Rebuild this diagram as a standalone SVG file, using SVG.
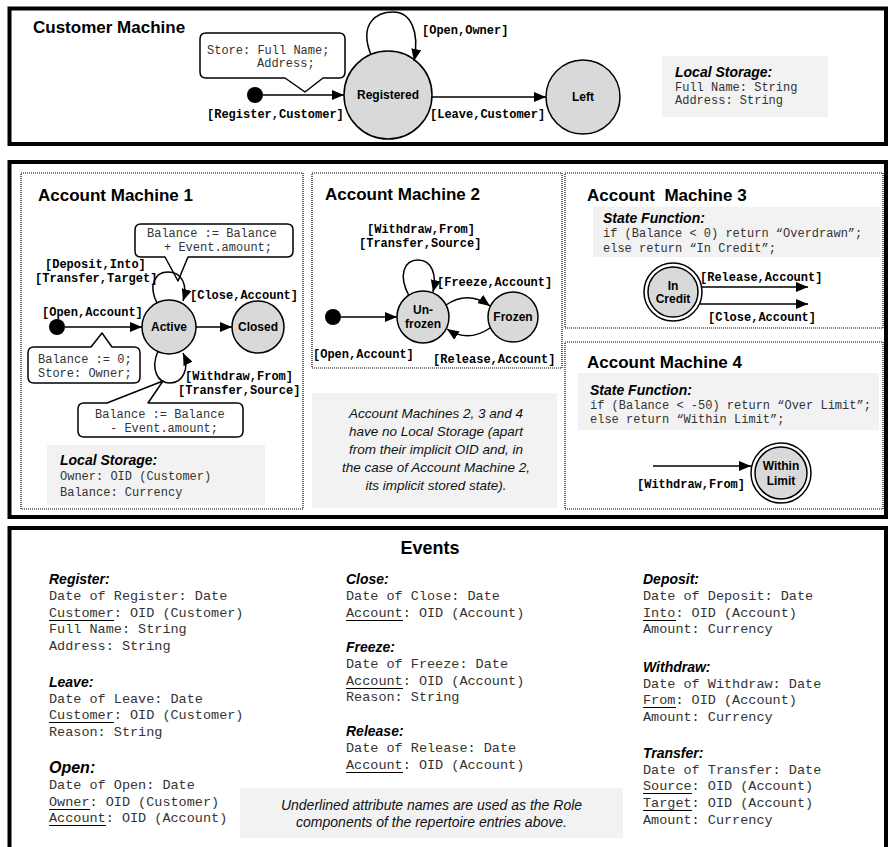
<svg xmlns="http://www.w3.org/2000/svg" width="888" height="847" viewBox="0 0 888 847">
<style>
.frame{fill:none;stroke:#000;stroke-width:4}
.dotb{fill:none;stroke:#000;stroke-width:1.2;stroke-dasharray:1 1}
.state{fill:#d9d9d9;stroke:#000;stroke-width:1.5}
.outer{fill:#fff;stroke:#000;stroke-width:1.5}
.call{fill:#fff;stroke:#000;stroke-width:1.5;stroke-linejoin:round}
.gray{fill:#f2f2f2}
.edge{fill:none;stroke:#000;stroke-width:1.5;marker-end:url(#ah)}
.title{font:bold 17px "Liberation Sans",Arial,sans-serif;fill:#000}
.sn{font:bold 12px "Liberation Sans",Arial,sans-serif;text-anchor:middle;fill:#000}
.lbl{font:bold 12px "Liberation Mono","Courier New",monospace;fill:#000}
.code{font:12px "Liberation Mono","Courier New",monospace;fill:#333}
.hd{font:bold italic 14px "Liberation Sans",Arial,sans-serif;fill:#000}
.ev{font:13.5px "Liberation Mono","Courier New",monospace;fill:#333}
.note{font:italic 13.5px "Liberation Sans",Arial,sans-serif;text-anchor:middle;fill:#111}
.ul{stroke:#000;stroke-width:1}
</style>
<defs>
<marker id="ah" viewBox="0 0 12 10" refX="12" refY="5" markerWidth="12" markerHeight="10" markerUnits="userSpaceOnUse" orient="auto">
<path d="M0,0 L12,5 L0,10 Z" fill="#000"/>
</marker>
</defs>

<!-- Frames -->
<rect class="frame" x="9.5" y="8.5" width="876.5" height="135.5"/>
<rect class="frame" x="9.5" y="162" width="876.5" height="355"/>
<rect class="frame" x="9.5" y="528" width="876.5" height="340"/>

<!-- Customer Machine -->
<g id="customer-machine">
<text class="title" x="33" y="33">Customer Machine</text>
<g id="cm-callout">
<path class="call" d="M206,33 H339 Q345,33 345,39 V72 Q345,78 339,78 H323 L305,92 L285,78 H206 Q200,78 200,72 V39 Q200,33 206,33 Z"/>
<text class="code" x="207" y="54">Store: Full Name;</text>
<text class="code" x="257" y="67">Address;</text>
</g>
<g id="cm-initial"><circle cx="255" cy="95" r="8" fill="#000"/></g>
<g id="cm-registered"><circle class="state" cx="388" cy="95" r="44"/><text class="sn" x="388" y="99">Registered</text></g>
<g id="cm-left"><circle class="state" cx="583" cy="97" r="37"/><text class="sn" x="583" y="101">Left</text></g>
<g id="cm-storage">
<rect class="gray" x="662" y="56" width="166" height="61"/>
<text class="hd" x="675" y="77">Local Storage:</text>
<text class="code" x="675" y="91">Full Name: String</text>
<text class="code" x="675" y="104">Address: String</text>
</g>
</g>

<!-- Account Machine 1 -->
<g id="account-machine-1">
<rect class="dotb" x="21" y="173" width="282" height="336"/>
<text class="title" x="38" y="201">Account Machine 1</text>
<g id="am1-callout-deposit">
<path class="call" d="M141,224 H287 Q293,224 293,230 V251 Q293,257 287,257 H188 L178,281 L165,257 H141 Q135,257 135,251 V230 Q135,224 141,224 Z"/>
<text class="code" x="147" y="237">Balance := Balance</text>
<text class="code" x="164" y="251">+ Event.amount;</text>
</g>
<g id="am1-initial"><circle cx="57" cy="327" r="8" fill="#000"/></g>
<g id="am1-active"><circle class="state" cx="169" cy="327" r="27"/><text class="sn" x="169" y="331">Active</text></g>
<g id="am1-closed"><circle class="state" cx="258" cy="327" r="26"/><text class="sn" x="258" y="331">Closed</text></g>
<g id="am1-callout-open">
<path class="call" d="M34,347 H91 L102,333 L112,347 H134 Q140,347 140,353 V377 Q140,383 134,383 H34 Q28,383 28,377 V353 Q28,347 34,347 Z"/>
<text class="code" x="38" y="363">Balance := 0;</text>
<text class="code" x="38" y="377">Store: Owner;</text>
</g>
<g id="am1-callout-withdraw">
<path class="call" d="M84,403 H107 L163,381 L148,403 H237 Q243,403 243,409 V431 Q243,437 237,437 H84 Q78,437 78,431 V409 Q78,403 84,403 Z"/>
<text class="code" x="95" y="418">Balance := Balance</text>
<text class="code" x="110" y="432">- Event.amount;</text>
</g>
<g id="am1-storage">
<rect class="gray" x="47" y="445" width="218" height="60"/>
<text class="hd" x="60" y="465">Local Storage:</text>
<text class="code" x="60" y="480">Owner: OID (Customer)</text>
<text class="code" x="60" y="496">Balance: Currency</text>
</g>
</g>

<!-- Account Machine 2 -->
<g id="account-machine-2">
<rect class="dotb" x="312" y="173" width="250" height="195"/>
<text class="title" x="325" y="200">Account Machine 2</text>
<g id="am2-initial"><circle cx="333" cy="317" r="8" fill="#000"/></g>
<g id="am2-unfrozen"><circle class="state" cx="423" cy="317" r="26"/><text class="sn" x="423" y="314">Un-</text><text class="sn" x="423" y="328">frozen</text></g>
<g id="am2-frozen"><circle class="state" cx="513" cy="317" r="25"/><text class="sn" x="513" y="321">Frozen</text></g>
</g>
<g id="am2-note">
<rect class="gray" x="312" y="393" width="245" height="115"/>
<text class="note" x="436" y="418">Account Machines 2, 3 and 4</text>
<text class="note" x="436" y="436">have no Local Storage (apart</text>
<text class="note" x="436" y="454">from their implicit  OID and, in</text>
<text class="note" x="436" y="472">the case of Account Machine 2,</text>
<text class="note" x="436" y="490">its implicit stored  state).</text>
</g>

<!-- Account Machine 3 -->
<g id="account-machine-3">
<rect class="dotb" x="565" y="173" width="318" height="155"/>
<text class="title" x="587" y="201">Account&#160; Machine 3</text>
<rect class="gray" x="593" y="207" width="287" height="50"/>
<text class="hd" x="603" y="223">State Function:</text>
<text class="code" x="603" y="237">if (Balance &lt; 0) return “Overdrawn”;</text>
<text class="code" x="603" y="252">else return “In Credit”;</text>
<g id="am3-incredit">
<circle class="outer" cx="673" cy="292" r="29"/>
<circle class="state" cx="673" cy="292" r="25"/>
<text class="sn" x="673" y="290">In</text>
<text class="sn" x="673" y="303">Credit</text>
</g>
</g>

<!-- Account Machine 4 -->
<g id="account-machine-4">
<rect class="dotb" x="565" y="342" width="318" height="167"/>
<text class="title" x="587" y="368">Account Machine 4</text>
<rect class="gray" x="578" y="373" width="301" height="57"/>
<text class="hd" x="590" y="395">State Function:</text>
<text class="code" x="590" y="409">if (Balance &lt; -50) return “Over Limit”;</text>
<text class="code" x="590" y="423">else return “Within Limit”;</text>
<g id="am4-withinlimit">
<circle class="outer" cx="781" cy="473" r="30"/>
<circle class="state" cx="781" cy="473" r="26"/>
<text class="sn" x="781" y="470">Within</text>
<text class="sn" x="781" y="485">Limit</text>
</g>
</g>

<!-- Connectors -->
<g id="connectors">
<path class="edge" d="M263,95 L344,95"/>
<text class="lbl" x="207" y="118">[Register,Customer]</text>
<path class="edge" d="M371,55 C358,22 378,12 393,12 C410,12 420,30 414,61"/>
<text class="lbl" x="422" y="34">[Open,Owner]</text>
<path class="edge" d="M432,97 L546,97"/>
<text class="lbl" x="430" y="118">[Leave,Customer]</text>

<path class="edge" d="M65,327 L142,327"/>
<text class="lbl" x="42" y="316">[Open,Account]</text>
<path class="edge" d="M157,303 C148,285 155,272 168,272 C182,272 188,285 183,301"/>
<text class="lbl" x="45" y="268">[Deposit,Into]</text>
<text class="lbl" x="35" y="282">[Transfer,Target]</text>
<path class="edge" d="M196,327 L232,327"/>
<text class="lbl" x="190" y="299">[Close,Account]</text>
<path class="edge" d="M158,351 C150,370 158,383 170,383 C183,383 190,368 183,353"/>
<text class="lbl" x="185" y="380">[Withdraw,From]</text>
<text class="lbl" x="178" y="394">[Transfer,Source]</text>

<path class="edge" d="M341,317 L397,317"/>
<text class="lbl" x="313" y="358">[Open,Account]</text>
<path class="edge" d="M409,296 C398,275 404,260 418,260 C432,260 437,275 433,292"/>
<text class="lbl" x="367" y="233">[Withdraw,From]</text>
<text class="lbl" x="359" y="247">[Transfer,Source]</text>
<path class="edge" d="M446,305 Q468,290 490,306"/>
<text class="lbl" x="437" y="286">[Freeze,Account]</text>
<path class="edge" d="M490,328 Q468,343 447,329"/>
<text class="lbl" x="433" y="363">[Release,Account]</text>

<path class="edge" d="M701,287 L808,287"/>
<text class="lbl" x="700" y="281">[Release,Account]</text>
<path class="edge" d="M699,304 L808,304"/>
<text class="lbl" x="708" y="321">[Close,Account]</text>

<path class="edge" d="M653,466 L751,466"/>
<text class="lbl" x="637" y="488">[Withdraw,From]</text>
</g>

<!-- Events -->
<g id="events">
<text class="title" x="430" y="554" text-anchor="middle" style="font-size:18px">Events</text>

<g id="ev-register">
<text class="hd" x="49" y="584">Register:</text>
<text class="ev" x="49" y="600">Date of Register: Date</text>
<text class="ev" x="49" y="617">Customer: OID (Customer)</text>
<line class="ul" x1="49" y1="620.5" x2="114" y2="620.5"/>
<text class="ev" x="49" y="633">Full Name: String</text>
<text class="ev" x="49" y="650">Address: String</text>
</g>
<g id="ev-leave">
<text class="hd" x="49" y="687">Leave:</text>
<text class="ev" x="49" y="703">Date of Leave: Date</text>
<text class="ev" x="49" y="719">Customer: OID (Customer)</text>
<line class="ul" x1="49" y1="722.5" x2="114" y2="722.5"/>
<text class="ev" x="49" y="736">Reason: String</text>
</g>
<g id="ev-open">
<text class="hd" x="49" y="773" style="font-size:16px">Open:</text>
<text class="ev" x="49" y="789">Date of Open: Date</text>
<text class="ev" x="49" y="806">Owner: OID (Customer)</text>
<line class="ul" x1="49" y1="809.5" x2="90" y2="809.5"/>
<text class="ev" x="49" y="822">Account: OID (Account)</text>
<line class="ul" x1="49" y1="825.5" x2="106" y2="825.5"/>
</g>

<g id="ev-close">
<text class="hd" x="346" y="584">Close:</text>
<text class="ev" x="346" y="600">Date of Close: Date</text>
<text class="ev" x="346" y="617">Account: OID (Account)</text>
<line class="ul" x1="346" y1="620.5" x2="403" y2="620.5"/>
</g>
<g id="ev-freeze">
<text class="hd" x="346" y="652">Freeze:</text>
<text class="ev" x="346" y="668">Date of Freeze: Date</text>
<text class="ev" x="346" y="685">Account: OID (Account)</text>
<line class="ul" x1="346" y1="688.5" x2="403" y2="688.5"/>
<text class="ev" x="346" y="701">Reason: String</text>
</g>
<g id="ev-release">
<text class="hd" x="346" y="736">Release:</text>
<text class="ev" x="346" y="752">Date of Release: Date</text>
<text class="ev" x="346" y="769">Account: OID (Account)</text>
<line class="ul" x1="346" y1="772.5" x2="403" y2="772.5"/>
</g>

<g id="ev-deposit">
<text class="hd" x="643" y="584">Deposit:</text>
<text class="ev" x="643" y="600">Date of Deposit: Date</text>
<text class="ev" x="643" y="617">Into: OID (Account)</text>
<line class="ul" x1="643" y1="620.5" x2="676" y2="620.5"/>
<text class="ev" x="643" y="633">Amount: Currency</text>
</g>
<g id="ev-withdraw">
<text class="hd" x="643" y="672">Withdraw:</text>
<text class="ev" x="643" y="688">Date of Withdraw: Date</text>
<text class="ev" x="643" y="704">From: OID (Account)</text>
<line class="ul" x1="643" y1="707.5" x2="676" y2="707.5"/>
<text class="ev" x="643" y="721">Amount: Currency</text>
</g>
<g id="ev-transfer">
<text class="hd" x="643" y="758">Transfer:</text>
<text class="ev" x="643" y="774">Date of Transfer: Date</text>
<text class="ev" x="643" y="790">Source: OID (Account)</text>
<line class="ul" x1="643" y1="793.5" x2="692" y2="793.5"/>
<text class="ev" x="643" y="807">Target: OID (Account)</text>
<line class="ul" x1="643" y1="810.5" x2="692" y2="810.5"/>
<text class="ev" x="643" y="824">Amount: Currency</text>
</g>

<g id="ev-note">
<rect class="gray" x="240" y="788" width="383" height="50"/>
<text class="note" x="431.5" y="810" style="font-size:14px">Underlined attribute names are used as the Role</text>
<text class="note" x="431.5" y="827" style="font-size:14px">components of the repertoire entries above.</text>
</g>
</g>
</svg>
